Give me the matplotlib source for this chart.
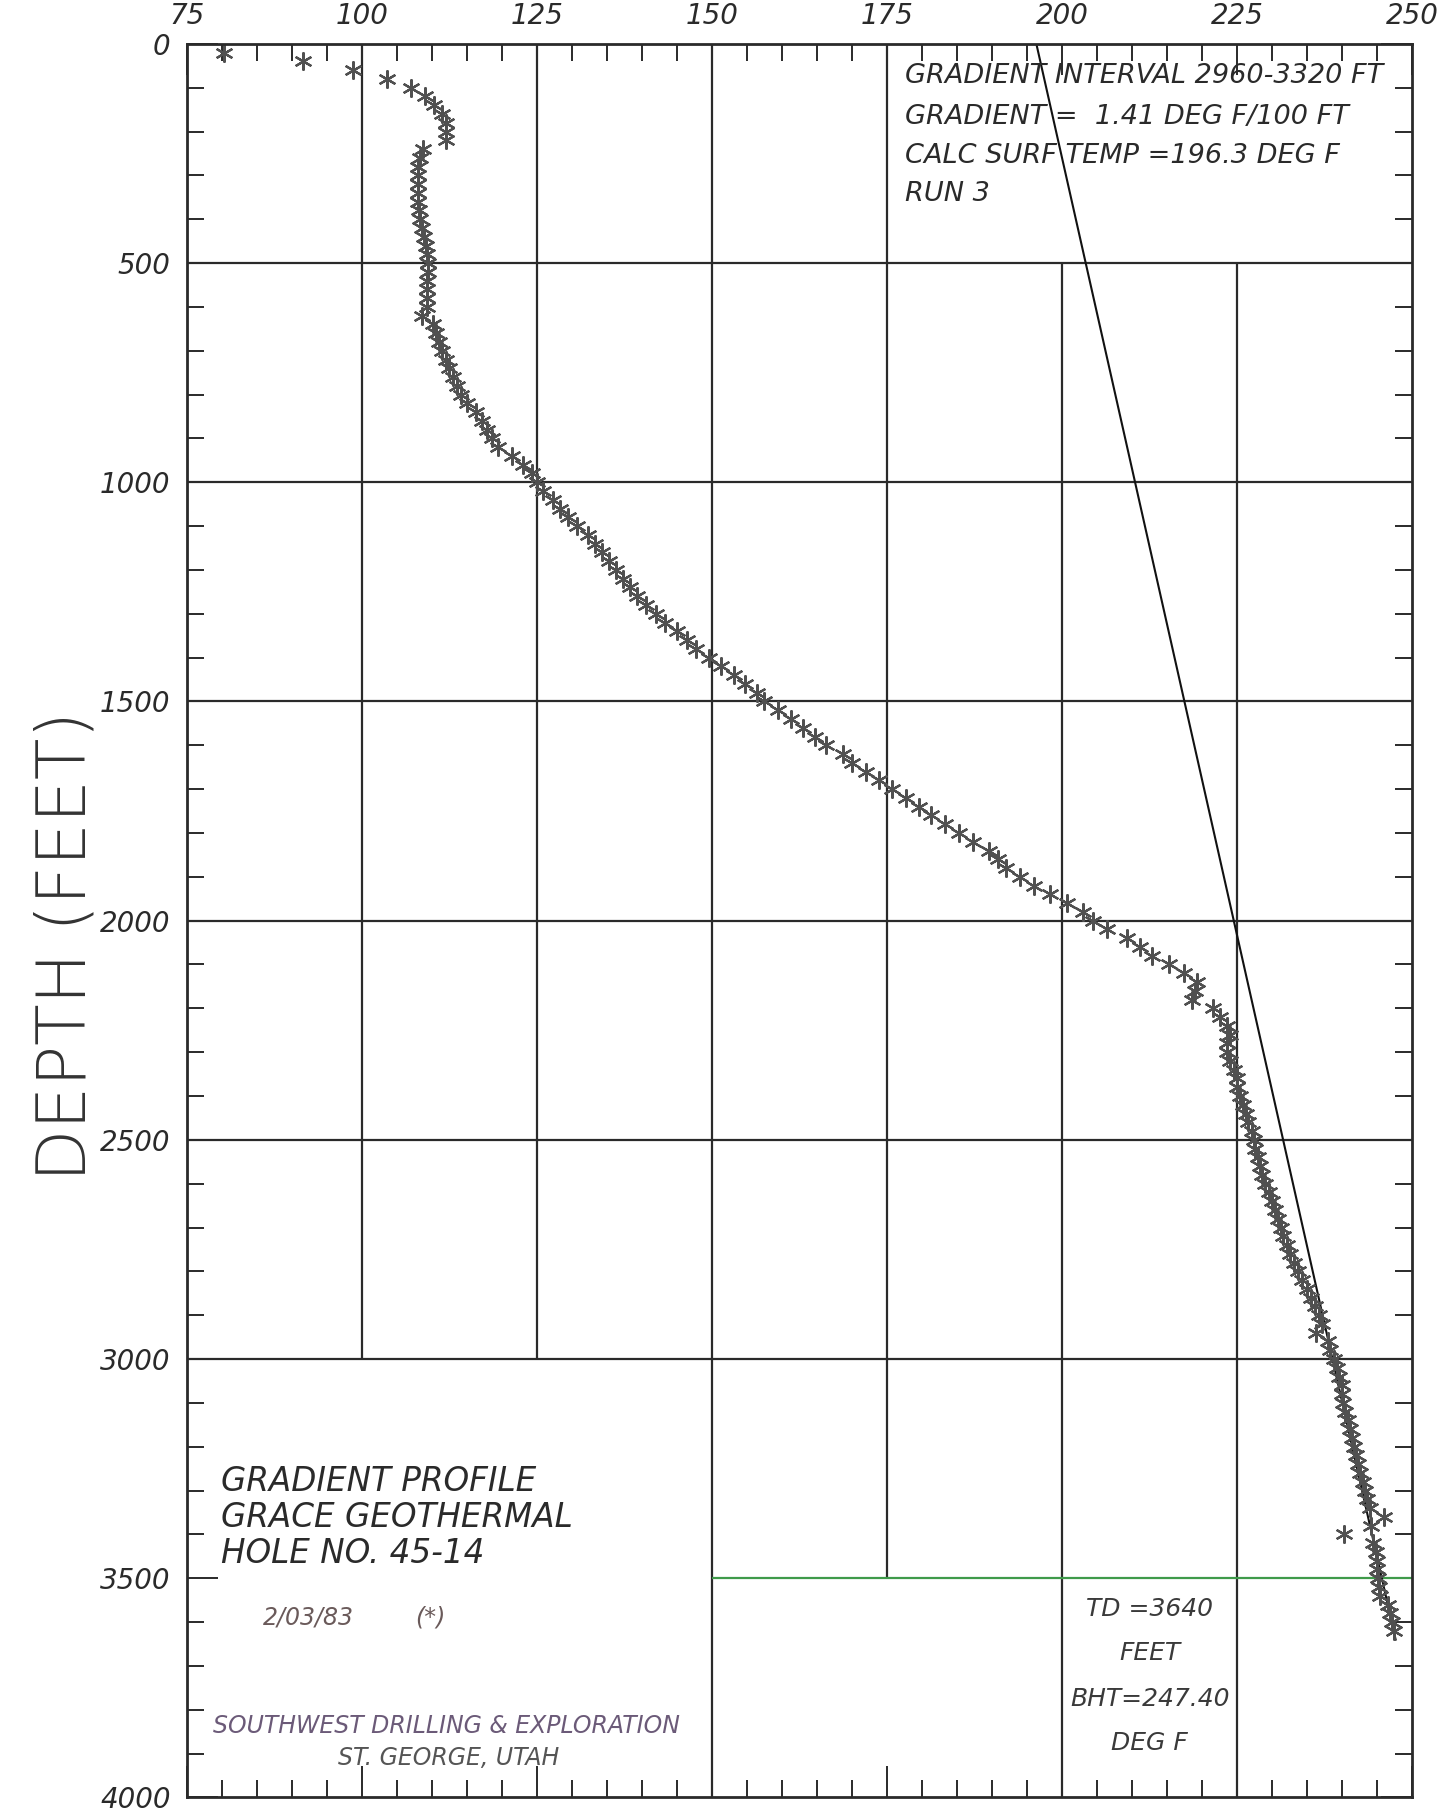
import numpy as np
import matplotlib.pyplot as plt

# temperature log, one reading every 20 ft
depth_ft = [
    20, 40, 60, 80, 100, 120, 140, 160, 180, 200,
    220, 240, 260, 280, 300, 320, 340, 360, 380, 400,
    420, 440, 460, 480, 500, 520, 540, 560, 580, 600,
    620, 640, 660, 680, 700, 720, 740, 760, 780, 800,
    820, 840, 860, 880, 900, 920, 940, 960, 980, 1000,
    1020, 1040, 1060, 1080, 1100, 1120, 1140, 1160, 1180, 1200,
    1220, 1240, 1260, 1280, 1300, 1320, 1340, 1360, 1380, 1400,
    1420, 1440, 1460, 1480, 1500, 1520, 1540, 1560, 1580, 1600,
    1620, 1640, 1660, 1680, 1700, 1720, 1740, 1760, 1780, 1800,
    1820, 1840, 1860, 1880, 1900, 1920, 1940, 1960, 1980, 2000,
    2020, 2040, 2060, 2080, 2100, 2120, 2140, 2160, 2180, 2200,
    2220, 2240, 2260, 2280, 2300, 2320, 2340, 2360, 2380, 2400,
    2420, 2440, 2460, 2480, 2500, 2520, 2540, 2560, 2580, 2600,
    2620, 2640, 2660, 2680, 2700, 2720, 2740, 2760, 2780, 2800,
    2820, 2840, 2860, 2880, 2900, 2920, 2940, 2960, 2980, 3000,
    3020, 3040, 3060, 3080, 3100, 3120, 3140, 3160, 3180, 3200,
    3220, 3240, 3260, 3280, 3300, 3320, 3340, 3360, 3380, 3400,
    3420, 3440, 3460, 3480, 3500, 3520, 3540, 3560, 3580, 3600,
    3620,
]
temp_f = [
    80.2, 91.5, 98.7, 103.6, 107.0, 108.9, 110.3, 111.4, 112.0, 112.0,
    112.0, 108.7, 108.2, 108.0, 108.0, 108.0, 108.0, 108.0, 108.1, 108.3,
    108.5, 108.8, 109.1, 109.3, 109.4, 109.4, 109.3, 109.3, 109.2, 109.2,
    108.5, 110.1, 110.5, 111.0, 111.4, 111.9, 112.4, 112.9, 113.5, 114.1,
    115.0, 116.3, 117.1, 117.8, 118.5, 119.4, 121.4, 123.0, 124.2, 125.0,
    125.8, 127.2, 128.3, 129.4, 130.7, 132.2, 133.3, 134.3, 135.3, 136.3,
    137.3, 138.3, 139.3, 140.6, 141.9, 143.2, 144.9, 146.4, 147.7, 149.5,
    151.3, 153.1, 154.7, 156.4, 157.4, 159.4, 161.2, 162.9, 164.7, 166.3,
    168.7, 170.0, 172.0, 173.8, 175.7, 177.7, 179.6, 181.2, 183.3, 185.3,
    187.3, 189.5, 190.8, 192.0, 193.9, 196.0, 198.2, 200.7, 203.0, 204.4,
    206.4, 209.2, 211.1, 212.8, 215.3, 217.4, 219.2, 218.9, 218.5, 221.5,
    222.5, 223.5, 224.0, 223.5, 223.5, 224.0, 224.6, 224.9, 225.0, 225.4,
    225.8, 226.2, 226.6, 227.1, 227.4, 227.6, 227.9, 228.2, 228.5, 229.0,
    229.5, 229.9, 230.4, 230.8, 231.2, 231.6, 232.1, 232.6, 233.1, 233.7,
    234.3, 234.9, 235.5, 236.1, 236.7, 237.1, 236.2, 237.9, 238.3, 238.8,
    239.2, 239.6, 239.9, 240.0, 240.1, 240.4, 240.8, 241.1, 241.4, 241.7,
    242.0, 242.3, 242.6, 242.9, 243.3, 243.6, 243.9, 246.0, 244.1, 240.2,
    244.4, 244.8, 245.0, 245.0, 245.1, 245.2, 245.4, 246.5, 246.8, 247.1,
    247.4,
]

# fitted gradient line (from the annotation)
surf_temp = 196.3
gradient = 1.41        # deg F / 100 ft
td = 3640

x_ticks = [75, 100, 125, 150, 175, 200, 225, 250]
y_ticks = [0, 500, 1000, 1500, 2000, 2500, 3000, 3500, 4000]

ink = '#2a2a2a'
fnt = 'DejaVu Sans'

fig = plt.figure(figsize=(14.47, 18.13), dpi=100)
ax = fig.add_axes([0.1294, 0.0086, 0.8466, 0.9672])

# grid drawn in pieces, leaving the text boxes open
ax.vlines([100, 125], 0, 3000, color=ink, lw=1.6)
ax.vlines([150], 0, 4000, color=ink, lw=1.6)
ax.vlines([175], 0, 3500, color=ink, lw=1.6)
ax.vlines([200, 225], 500, 4000, color=ink, lw=1.6)
ax.hlines([500, 1000, 1500, 2000, 2500, 3000], 75, 250, color=ink, lw=1.6)
ax.hlines([3500], 150, 250, color='#3f9a4a', lw=1.6)

# gradient line
gd = [0, td]
gt = [surf_temp, surf_temp + gradient * td / 100.0]
ax.plot(gt, gd, color='#111111', lw=1.5)

# data
ax.plot(temp_f, depth_ft, linestyle='none', marker=(6, 2, 0), markersize=13,
        markeredgewidth=1.6, color='#505050')

ax.set_xlim(75, 250)
ax.set_ylim(4000, 0)
ax.set_xticks(x_ticks)
ax.set_xticks(np.arange(75, 251, 5), minor=True)
ax.set_yticks(y_ticks)
ax.set_yticks(np.arange(0, 4001, 100), minor=True)
ax.xaxis.tick_top()
ax.set_xticklabels([str(v) for v in x_ticks])
ax.set_yticklabels([str(v) for v in y_ticks])
ax.tick_params(which='both', direction='in', top=True, bottom=True,
               left=True, right=True, color=ink, width=1.4)
ax.tick_params(which='major', length=22)
ax.tick_params(which='minor', length=12)
ax.tick_params(axis='x', labelsize=20, pad=10, labelcolor=ink)
ax.tick_params(axis='y', labelsize=20, pad=12, labelcolor=ink)
for lab in ax.get_xticklabels() + ax.get_yticklabels():
    lab.set_fontstyle('italic')
    lab.set_family(fnt)
for s in ax.spines.values():
    s.set_linewidth(2.0)
    s.set_color(ink)

fig.text(0.046, 0.478, 'DEPTH (FEET)', rotation=90, ha='center', va='center',
         fontsize=49, color='#333333', family=fnt, fontweight='light')

# upper right note
note_kw = dict(fontsize=19.5, style='italic', color=ink, family=fnt,
               ha='left', va='center')
ax.text(177.6, 74, 'GRADIENT INTERVAL 2960-3320 FT', **note_kw)
ax.text(177.6, 166, 'GRADIENT =  1.41 DEG F/100 FT', **note_kw)
ax.text(177.6, 255, 'CALC SURF TEMP =196.3 DEG F', **note_kw)
ax.text(177.6, 342, 'RUN 3', **note_kw)

# lower left title block
ttl_kw = dict(fontsize=23.5, style='italic', color=ink, family=fnt,
              ha='left', va='center')
ax.text(79.8, 3280, 'GRADIENT PROFILE', **ttl_kw)
ax.text(79.8, 3362, 'GRACE GEOTHERMAL', **ttl_kw)
ax.text(79.8, 3444, 'HOLE NO. 45-14', **ttl_kw)
ax.text(85.8, 3590, '2/03/83', fontsize=17, style='italic', color='#6a5a5a',
        family=fnt, ha='left', va='center')
ax.text(107.5, 3590, '(*)', fontsize=17, style='italic', color='#6a5a5a',
        family=fnt, ha='left', va='center')
ax.text(78.7, 3838, 'SOUTHWEST DRILLING & EXPLORATION', fontsize=17,
        style='italic', color='#6b5a78', family=fnt, ha='left', va='center')
ax.text(112.3, 3910, 'ST. GEORGE, UTAH', fontsize=17, style='italic',
        color='#555555', family=fnt, ha='center', va='center')

# lower right block
td_kw = dict(fontsize=18, style='italic', color='#3a3a3a', family=fnt,
             ha='center', va='center')
ax.text(212.5, 3570, 'TD =3640', **td_kw)
ax.text(212.5, 3670, 'FEET', **td_kw)
ax.text(212.5, 3775, 'BHT=247.40', **td_kw)
ax.text(212.5, 3875, 'DEG F', **td_kw)

fig.savefig('out.png', dpi=100)
